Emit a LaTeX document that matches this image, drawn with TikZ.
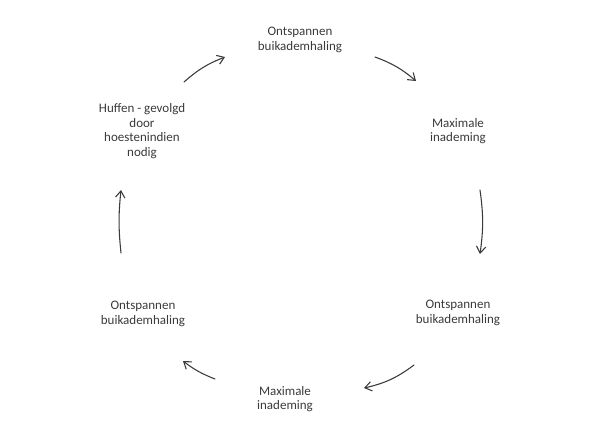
\documentclass[tikz,border=0pt]{standalone}
\usepackage{fontspec}
\setmainfont{Carlito}
\usetikzlibrary{arrows.meta}
\definecolor{ink}{HTML}{3A3A3A}
\begin{document}
\begin{tikzpicture}[x=0.75pt, y=0.75pt, font=\fontsize{9.75}{11}\selectfont, line join=round, line cap=round, >={Straight Barb[length=5pt,width=7pt]}]
				\tikzset{lbl/.style={align=center, text=ink, inner sep=0pt}, pijl/.style={->, draw=ink, line width=0.8pt}}
				\useasboundingbox (0,0) rectangle (600,444);
				\node[lbl] (ontsp1) at (300,404) {Ontspannen\\buikademhaling};
				\node[lbl] (maxin1) at (458,313) {Maximale\\inademing};
				\node[lbl] (ontsp2) at (458,131) {Ontspannen\\buikademhaling};
				\node[lbl] (maxin2) at (285,45) {Maximale\\inademing};
				\node[lbl] (ontsp3) at (143,130) {Ontspannen\\buikademhaling};
				\node[lbl] (huff) at (142,313) {Huffen - gevolgd\\door\\hoestenindien\\nodig};
				\coordinate (p1) at (184,362);     % pijl links boven
				\coordinate (q1) at (225,387);
				\coordinate (p2) at (375,387);
				\coordinate (q2) at (416,363);
				\coordinate (p3) at (480,254);
				\coordinate (q3) at (480,190);
				\coordinate (p4) at (414,79);
				\coordinate (q4) at (364,56);
				\coordinate (p5) at (215,65);
				\coordinate (q5) at (183,83);
				\coordinate (p6) at (121,191);
				\coordinate (q6) at (121,254);
				\draw[pijl] (p1) to[bend left=10] (q1);
				\draw[pijl] (p2) to[bend left=10] (q2);
				\draw[pijl] (p3) to[bend left=8] (q3);
				\draw[pijl] (p4) to[bend left=12] (q4);
				\draw[pijl] (p5) to[bend left=8] (q5);
				\draw[pijl] (p6) to[bend left=6] (q6);
\end{tikzpicture}
\end{document}
